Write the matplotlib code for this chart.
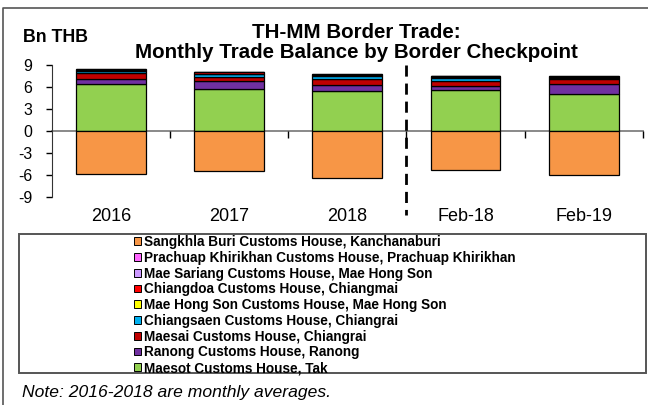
import numpy as np
import matplotlib
matplotlib.use("Agg")
import matplotlib.pyplot as plt
from matplotlib.patches import Patch, Rectangle
from matplotlib.lines import Line2D

plt.rcParams['font.family'] = ['Liberation Sans', 'DejaVu Sans']
plt.rcParams['axes.unicode_minus'] = False

# data (Bn THB)
cats = ['2016', '2017', '2018', 'Feb-18', 'Feb-19']
maesot = [6.40, 5.71, 5.44, 5.57, 5.03]
ranong = [0.76, 1.19, 0.90, 0.63, 1.37]
maesai = [0.83, 0.54, 0.82, 0.65, 0.76]
chiangsaen = [0.20, 0.36, 0.42, 0.45, 0.10]
mae_hong_son = [0.05, 0.04, 0.04, 0.04, 0.10]
chiangdoa = [0.15, 0.20, 0.10, 0.15, 0.10]
mae_sariang = [0.05, 0.04, 0.04, 0.04, 0.05]
prachuap = [0.06, 0.04, 0.04, 0.04, 0.05]
sangkhla = [-5.85, -5.40, -6.34, -5.25, -5.93]

labels = ['Maesot Customs House, Tak',
          'Ranong Customs House, Ranong',
          'Maesai Customs House, Chiangrai',
          'Chiangsaen Customs House, Chiangrai',
          'Mae Hong Son Customs House, Mae Hong Son',
          'Chiangdoa Customs House, Chiangmai',
          'Mae Sariang Customs House, Mae Hong Son',
          'Prachuap Khirikhan Customs House, Prachuap Khirikhan',
          'Sangkhla Buri Customs House, Kanchanaburi']
colors = ['#92D050', '#7030A0', '#C00000', '#00B0F0', '#FFFF00',
          '#FF0000', '#CC99FF', '#FF66FF', '#F79646']
pos_series = [maesot, ranong, maesai, chiangsaen, mae_hong_son,
              chiangdoa, mae_sariang, prachuap]

W, H = 648, 405
fig = plt.figure(figsize=(W / 100, H / 100), dpi=100)
ax = fig.add_axes([51.7 / W, 1 - 197 / H, (643 - 51.7) / W, (197 - 65.3) / H])

x = np.arange(len(cats))
bw = 0.59
bottom = np.zeros(len(cats))
for vals, c in zip(pos_series, colors[:-1]):
    ax.bar(x, vals, bw, bottom=bottom, color=c, edgecolor='black', linewidth=0.9, zorder=2)
    bottom += np.array(vals)
ax.bar(x, sangkhla, bw, color=colors[-1], edgecolor='black', linewidth=0.9, zorder=2)

ax.set_xlim(-0.5, len(cats) - 0.5)
ax.set_ylim(-9, 9)
ax.set_yticks(np.arange(-9, 10, 3))
ax.tick_params(axis='y', direction='out', length=4, width=1, pad=10, labelsize=11.5)
ax.spines['top'].set_visible(False)
ax.spines['right'].set_visible(False)
ax.spines['left'].set_color('#333333')
ax.spines['bottom'].set_position(('data', 0))
ax.spines['bottom'].set_color('#808080')
ax.spines['bottom'].set_linewidth(1.3)
ax.spines['bottom'].set_zorder(1)
ax.set_xticks(x + 0.5)
ax.set_xticklabels([])
ax.tick_params(axis='x', direction='out', length=5, width=1, colors='black')

sec = ax.secondary_xaxis('bottom')
sec.set_xticks(x)
sec.set_xticklabels(cats, fontsize=13)
sec.tick_params(length=0, pad=8)
sec.spines['bottom'].set_visible(False)

# separator between averages and monthly values
ax.plot([2.5, 2.5], [9, -11.5], color='black', lw=2, ls=(0, (4, 2.5)), clip_on=False, zorder=3)

fig.text(356 / W, 1 - 32 / H, 'TH-MM Border Trade:', ha='center', va='center',
         fontsize=14.8, fontweight='bold')
fig.text(356 / W, 1 - 52 / H, 'Monthly Trade Balance by Border Checkpoint', ha='center',
         va='center', fontsize=14.8, fontweight='bold')
fig.text(23 / W, 1 - 37 / H, 'Bn THB', ha='left', va='center', fontsize=12.8, fontweight='bold')

# legend box and entries
fig.add_artist(Rectangle((19 / W, 1 - 373 / H), (646 - 19) / W, (373 - 234) / H,
                         transform=fig.transFigure, fill=False, edgecolor='#555555', lw=1.4))
handles = [Patch(facecolor=c, edgecolor='black', linewidth=0.7, label=l)
           for c, l in zip(colors[::-1], labels[::-1])]
leg = fig.legend(handles=handles, loc='upper left', bbox_to_anchor=(134 / W, 1 - 235 / H),
                 frameon=False, fontsize=9.8, handlelength=0.55, handleheight=0.5,
                 handletextpad=0.22, labelspacing=0.13, borderpad=0, borderaxespad=0)
for t in leg.get_texts():
    t.set_fontweight('bold')

fig.text(22 / W, 1 - 393 / H, 'Note: 2016-2018 are monthly averages.', ha='left', va='center',
         fontsize=12.6, fontstyle='italic')

# outer chart border
fig.add_artist(Line2D([3 / W, 3 / W, 1], [0, 1 - 8 / H, 1 - 8 / H], transform=fig.transFigure,
                      color='#555555', lw=1.2))

fig.savefig('out.png', dpi=100)
